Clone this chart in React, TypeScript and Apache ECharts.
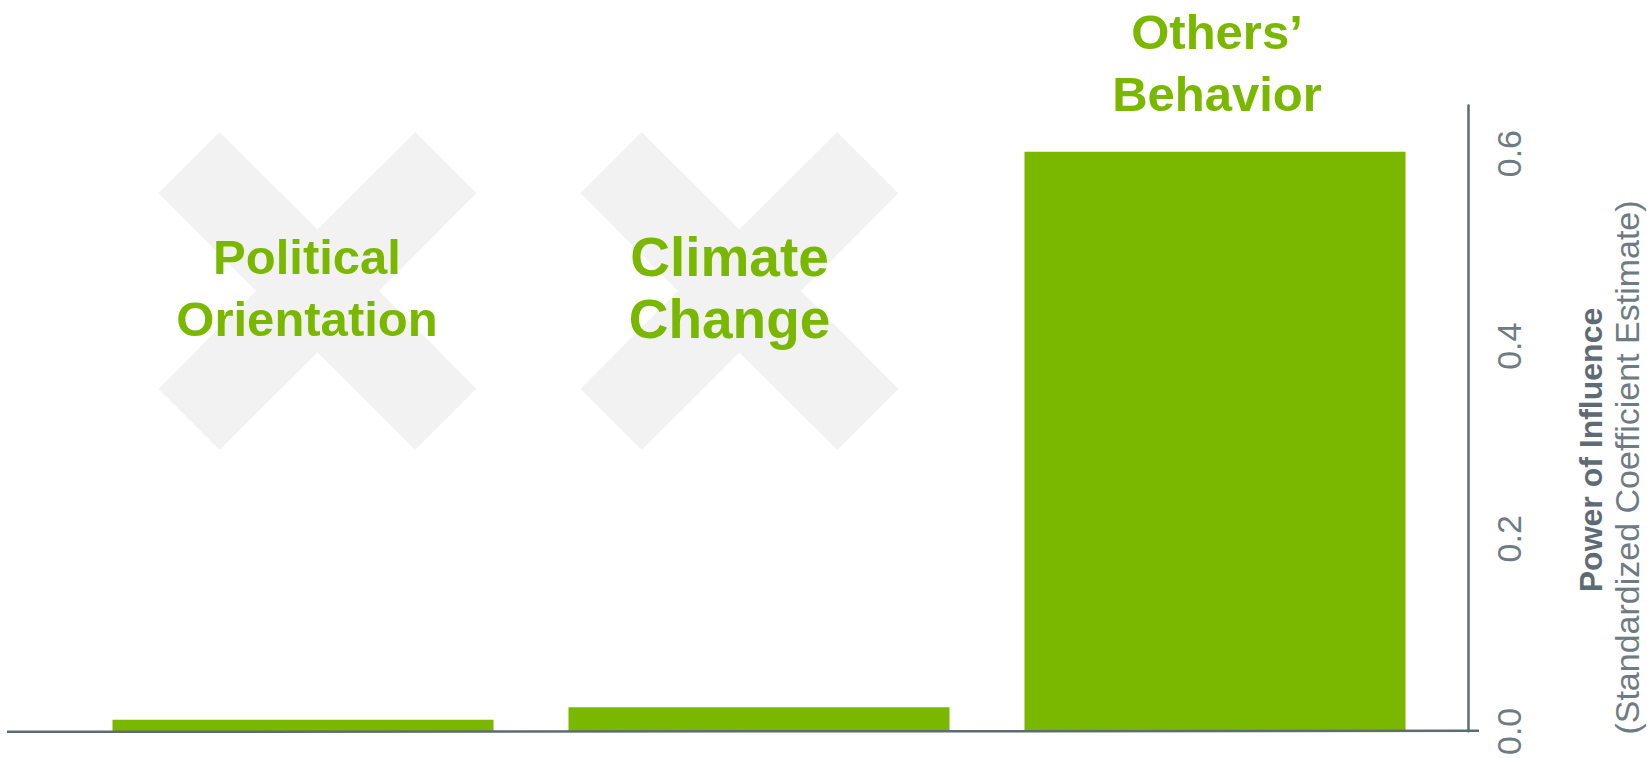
import React, { useEffect, useRef } from "react";
import * as echarts from "echarts";

// ---- data ----
const categories = ["Political\nOrientation", "Climate\nChange", "Others’\nBehavior"];
const values = [0.012, 0.025, 0.602];
const crossedOut = [true, true, false];
const yMin = 0;
const yMax = 0.65;
const yInterval = 0.2;
const axisTitle = "Power of Influence";
const axisSubtitle = "(Standardized Coefficient Estimate)";

// ---- styles ----
const GREEN = "#7ab800";
const AXIS = "#5f6b73";
const LABEL = "#6f7b83";
const CROSS = "#f2f2f2";
const FONT = "'Liberation Sans', Arial, Helvetica, sans-serif";

// layout offsets for the annotations (relative to category centre)
const crossDx = [14.5, -19.5, 0];
const labelDx = [4, -29.5, 2];
const labelCy = [287.5, 287.5, 63];
const labelSize = [49, 55, 49];
const crossCy = 291;

function crossPoints(cx: number, cy: number) {
  const H = 159;
  const a = 61.3;
  const d = 61.5;
  const p = [
    [0, -d], [H - a, -H], [H, -(H - a)], [d, 0], [H, H - a], [H - a, H],
    [0, d], [-(H - a), H], [-H, H - a], [-d, 0], [-H, -(H - a)], [-(H - a), -H],
  ];
  return p.map(([x, y]) => [cx + x, cy + y]);
}

export default function App() {
  const ref = useRef<HTMLDivElement>(null);
  useEffect(() => {
    document.body.style.margin = "0";
    document.body.style.overflow = "hidden";
    const chart = echarts.init(ref.current!, null, { renderer: "svg" });
    chart.setOption({
      animation: false,
      backgroundColor: "#ffffff",
      grid: { left: 75, right: 204, top: 105.5, bottom: 18.5, containLabel: false },
      xAxis: {
        type: "category",
        data: categories,
        axisLine: { show: false },
        axisTick: { show: false },
        axisLabel: { show: false },
      },
      yAxis: {
        type: "value",
        position: "right",
        offset: 25,
        min: yMin,
        max: yMax,
        interval: yInterval,
        axisLine: { show: true, lineStyle: { color: AXIS, width: 2.5 } },
        axisTick: { show: false },
        splitLine: { show: false },
        axisLabel: {
          showMaxLabel: false,
          rotate: 90,
          margin: 24,
          fontSize: 34,
          color: LABEL,
          fontFamily: FONT,
          formatter: (v: number) => v.toFixed(1),
        },
      },
      series: [
        {
          type: "bar",
          data: values,
          barWidth: 381,
          itemStyle: { color: GREEN },
          z: 3,
        },
      ],
    });

    const yBase = chart.convertToPixel({ yAxisIndex: 0 }, 0) as number;
    const elements: any[] = [];
    categories.forEach((c, i) => {
      const cx = chart.convertToPixel({ xAxisIndex: 0 }, i) as number;
      if (crossedOut[i]) {
        elements.push({
          type: "polygon",
          z: 1,
          shape: { points: crossPoints(cx + crossDx[i], crossCy) },
          style: { fill: CROSS },
          silent: true,
        });
      }
      elements.push({
        type: "text",
        z: 10,
        x: cx + labelDx[i],
        y: labelCy[i],
        style: {
          text: c,
          fill: GREEN,
          font: `bold ${labelSize[i]}px ${FONT}`,
          lineHeight: 62,
          align: "center",
          verticalAlign: "middle",
        },
      });
    });
    elements.push({
      type: "line",
      z: 5,
      shape: { x1: 7, y1: yBase + 0.5, x2: 1479, y2: yBase - 0.5 },
      style: { stroke: AXIS, lineWidth: 2.5 },
    });
    elements.push({
      type: "text",
      z: 10,
      x: 1591,
      y: 450,
      rotation: Math.PI / 2,
      style: {
        text: axisTitle,
        fill: AXIS,
        font: `bold 32px ${FONT}`,
        align: "center",
        verticalAlign: "middle",
      },
    });
    elements.push({
      type: "text",
      z: 10,
      x: 1627,
      y: 467.5,
      rotation: Math.PI / 2,
      style: {
        text: axisSubtitle,
        fill: LABEL,
        font: `34px ${FONT}`,
        align: "center",
        verticalAlign: "middle",
      },
    });
    chart.setOption({ graphic: { elements } });
    return () => chart.dispose();
  }, []);
  return <div ref={ref} style={{ width: 1647, height: 758 }} />;
}
